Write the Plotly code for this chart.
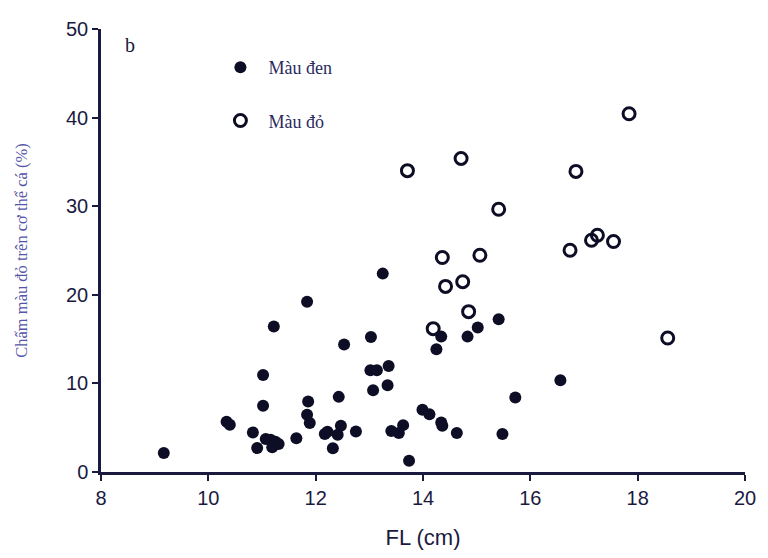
import plotly.graph_objects as go

# Màu đen (filled)
den_x = [9.17, 10.34, 10.40, 10.83, 10.91, 11.02, 11.02, 11.07, 11.16, 11.25, 11.31, 11.19, 11.22,
         11.64, 11.84, 11.86, 11.84, 11.89, 12.17, 12.22, 12.32, 12.41, 12.47, 12.43, 12.53, 12.75,
         13.03, 13.02, 13.14, 13.07, 13.25, 13.36, 13.34, 13.41, 13.55, 13.63, 13.74, 13.99, 14.12,
         14.25, 14.34, 14.34, 14.36, 14.63, 14.83, 15.02, 15.41, 15.48, 15.72, 16.56]
den_y = [2.14, 5.66, 5.33, 4.47, 2.70, 10.96, 7.47, 3.72, 3.64, 3.41, 3.15, 2.78, 16.41,
         3.80, 19.22, 7.96, 6.45, 5.52, 4.28, 4.54, 2.67, 4.20, 5.21, 8.48, 14.38, 4.58,
         15.24, 11.49, 11.49, 9.23, 22.39, 11.97, 9.80, 4.62, 4.39, 5.29, 1.27, 7.02, 6.53,
         13.85, 15.28, 5.60, 5.21, 4.39, 15.28, 16.30, 17.23, 4.28, 8.41, 10.36]

# Màu đỏ (open)
do_x = [13.71, 14.71, 17.84, 16.85, 15.41, 14.36, 15.06, 14.42, 14.74, 14.85, 14.19,
        16.74, 17.14, 17.25, 17.55, 18.56]
do_y = [34.01, 35.39, 40.43, 33.93, 29.65, 24.21, 24.47, 20.95, 21.48, 18.10, 16.18,
        25.03, 26.16, 26.72, 26.01, 15.12]

x_ticks = [8, 10, 12, 14, 16, 18, 20]
y_ticks = [0, 10, 20, 30, 40, 50]

ink = "#0d0d26"
axis_col = "#1a1a40"
serif = "Liberation Serif, Times New Roman, serif"
sans = "Liberation Sans, Arial, sans-serif"

fig = go.Figure()
fig.add_trace(go.Scatter(
    x=den_x, y=den_y, mode="markers", name="Màu đen", legendgroup="a",
    marker=dict(symbol="circle", size=12, color=ink, line=dict(width=0)),
))
fig.add_trace(go.Scatter(
    x=do_x, y=do_y, mode="markers", name="Màu đỏ", legendgroup="b",
    marker=dict(symbol="circle-open", size=12, color=ink, line=dict(width=3, color=ink)),
))

fig.add_annotation(x=0.034, y=0.964, xref="paper", yref="paper", text="b", showarrow=False,
                   xanchor="left", yanchor="middle", font=dict(family=serif, size=20, color=axis_col))

fig.update_layout(
    width=768, height=558,
    margin=dict(l=101, r=16, t=29, b=85),
    paper_bgcolor="white", plot_bgcolor="white",
    showlegend=True,
    legend=dict(x=0.173, y=0.955, xanchor="left", yanchor="top", bgcolor="rgba(0,0,0,0)",
                font=dict(family=serif, size=18, color="#2a2a60"), tracegroupgap=27,
                itemwidth=46),
    xaxis=dict(range=[8, 20], tickvals=x_ticks, ticktext=[str(v) for v in x_ticks],
               showline=True, linecolor=axis_col, linewidth=2.5, showgrid=False, zeroline=False,
               ticks="outside", ticklen=6, tickwidth=2, tickcolor=axis_col,
               tickfont=dict(family=sans, size=20, color=axis_col),
               title=dict(text="FL (cm)", font=dict(family=sans, size=22, color=axis_col), standoff=22)),
    yaxis=dict(range=[0, 50], tickvals=y_ticks, ticktext=[str(v) for v in y_ticks],
               showline=True, linecolor=axis_col, linewidth=2.5, showgrid=False, zeroline=False,
               ticks="outside", ticklen=6, tickwidth=2, tickcolor=axis_col,
               tickfont=dict(family=sans, size=20, color=axis_col),
               title=dict(text="Chấm màu đỏ trên cơ thể cá (%)",
                          font=dict(family=serif, size=16.5, color="#5555a8"), standoff=35)),
)

fig.write_html("out.html", config={"displayModeBar": False},
               post_script="document.body.style.margin='0';")
